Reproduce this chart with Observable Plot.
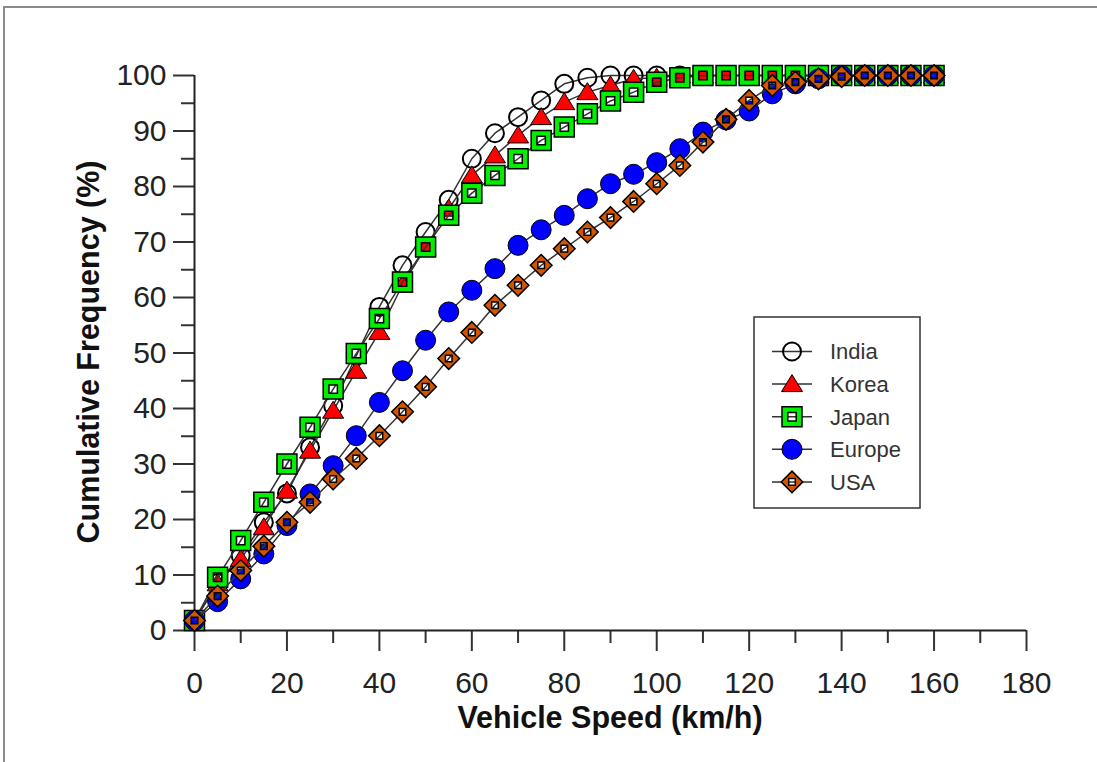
<!DOCTYPE html>
<html><head><meta charset="utf-8">
<script src="https://cdn.jsdelivr.net/npm/d3@7"></script>
<script src="https://cdn.jsdelivr.net/npm/@observablehq/plot@0.6"></script>
<style>
html,body{margin:0;padding:0;background:#fff;}
#wrap{position:relative;width:1097px;height:762px;overflow:hidden;background:#fff;}
#border{position:absolute;left:3px;top:6px;width:1200px;height:900px;border-top:2px solid #8a8a8a;border-left:2px solid #8a8a8a;}
#chart{position:absolute;left:0;top:0;}
</style></head><body>
<div id="wrap"><div id="border"></div><div id="chart"></div></div>
<script>
// ---- data ----
const speeds = [0,5,10,15,20,25,30,35,40,45,50,55,60,65,70,75,80,85,90,95,100,105,110,115,120,125,130,135,140,145,150,155,160];
const india  = [1.8,8.5,13.5,19.5,24.7,33,40.5,49.5,58.3,65.8,71.8,77.6,85,89.6,92.5,95.5,98.5,99.6,100,100,100,100,100,100,100,100,100,100,100,100,100,100,100];
const korea  = [1.8,8.5,12.9,18.6,25.2,32.4,39.6,46.8,53.8,62.3,69,76,82,85.6,89.2,92.5,95.2,97,98.2,99.4,99.6,100,100,100,100,100,100,100,100,100,100,100,100];
const japan  = [1.8,9.6,16.2,23.1,30,36.6,43.5,49.9,56.2,62.8,69.1,74.8,78.8,82,85,88.3,90.7,93.1,95.4,97,98.8,99.6,100,100,100,100,100,100,100,100,100,100,100];
const europe = [1.8,5.2,9.3,13.8,18.9,24.6,29.7,35.1,41.1,46.8,52.3,57.4,61.3,65.2,69.4,72.2,74.8,77.8,80.5,82.2,84.3,86.8,89.8,92,93.6,96.7,98.5,99.4,100,100,100,100,100];
const usa    = [1.8,6.2,10.8,15.2,19.5,23.1,27.3,31,35.1,39.4,43.9,49,53.7,58.6,62.2,65.8,68.8,71.8,74.4,77.3,80.5,83.8,88,92.1,95.5,98.2,98.8,99.4,99.8,100,100,100,100];
const seriesNames = ["India","Korea","Japan","Europe","USA"];
const xTicks = [0,20,40,60,80,100,120,140,160,180];
const xMinorTicks = [10,30,50,70,90,110,130,150,170];
const yTicks = [0,10,20,30,40,50,60,70,80,90,100];
const yMinorTicks = [5,15,25,35,45,55,65,75,85,95];
const xTitle = "Vehicle Speed (km/h)";
const yTitle = "Cumulative Frequency (%)";

// ---- symbols ----
const rad = size => Math.sqrt(size / Math.PI);
const symCircle = {draw(c, size){const r = rad(size); c.moveTo(r,0); c.arc(0,0,r,0,2*Math.PI); c.closePath();}};
const symTriangle = {draw(c, size){const r = rad(size); c.moveTo(0,-r*0.95); c.lineTo(r*1.05,r*0.75); c.lineTo(-r*1.05,r*0.75); c.closePath();}};
const symSquareHole = {draw(c, size){const r = rad(size); const s = r, t = r*0.42;
  c.moveTo(-s,-s); c.lineTo(s,-s); c.lineTo(s,s); c.lineTo(-s,s); c.closePath();
  c.moveTo(-t,-t); c.lineTo(-t,t); c.lineTo(t,t); c.lineTo(t,-t); c.closePath();}};
const symDiamondHole = {draw(c, size){const r = rad(size); const d = r*1.08, t = r*0.33;
  c.moveTo(0,-d); c.lineTo(d,0); c.lineTo(0,d); c.lineTo(-d,0); c.closePath();
  c.moveTo(-t,-t); c.lineTo(-t,t); c.lineTo(t,t); c.lineTo(t,-t); c.closePath();}};

const styles = {
  India:  {symbol: symCircle, r: 9, fill: "none", stroke: "#000", strokeWidth: 2},
  Korea:  {symbol: symTriangle, r: 10, fill: "#ff0000", stroke: "#000", strokeWidth: 1},
  Japan:  {symbol: symSquareHole, r: 10, fill: "#00ee00", stroke: "#000", strokeWidth: 1.5},
  Europe: {symbol: symCircle, r: 10, fill: "#0000ff", stroke: "#000", strokeWidth: 1},
  USA:    {symbol: symDiamondHole, r: 10, fill: "#d45500", stroke: "#000", strokeWidth: 1.5}
};
const values = {India: india, Korea: korea, Japan: japan, Europe: europe, USA: usa};
const table = seriesNames.map(name => speeds.map((s, i) => ({series: name, speed: s, freq: values[name][i]})));

const marks = [];
seriesNames.forEach((name, k) => {
  marks.push(Plot.line(table[k], {x: "speed", y: "freq", stroke: "#333", strokeWidth: 1.5}));
  marks.push(Plot.dot(table[k], {x: "speed", y: "freq", ...styles[name]}));
});

const font = "'Liberation Sans', Arial, Helvetica, sans-serif";
const svgNode = Plot.plot({
  width: 1097, height: 762,
  marginLeft: 194, marginRight: 71, marginTop: 75, marginBottom: 132,
  style: {fontFamily: font, background: "transparent", overflow: "visible"},
  x: {domain: [0, 180]},
  y: {domain: [0, 100]},
  marks: [
    Plot.axisY(yTicks, {tickSize: 21, tickPadding: 7, fontSize: 30, stroke: "#333", strokeWidth: 2, fill: "#222", label: null}),
    Plot.axisY(yMinorTicks, {tickSize: 13, text: null, stroke: "#333", strokeWidth: 2, label: null}),
    Plot.axisX(xTicks, {tickSize: 21, tickPadding: 20, fontSize: 30, stroke: "#333", strokeWidth: 2, fill: "#222", label: null}),
    Plot.axisX(xMinorTicks, {tickSize: 13, text: null, stroke: "#333", strokeWidth: 2, label: null}),
    Plot.ruleX([0], {stroke: "#222", strokeWidth: 2}),
    Plot.ruleY([0], {stroke: "#222", strokeWidth: 2}),
    ...marks
  ]
});
document.getElementById("chart").appendChild(svgNode);

const svg = d3.select(svgNode);
svg.append("text").attr("x", 610).attr("y", 728).attr("text-anchor", "middle")
  .attr("font-size", 30.5).attr("font-weight", "bold").attr("fill", "#111").attr("font-family", font).text(xTitle);
svg.append("text").attr("transform", "translate(99,352) rotate(-90)").attr("text-anchor", "middle")
  .attr("font-size", 30.5).attr("font-weight", "bold").attr("fill", "#111").attr("font-family", font).text(yTitle);

// ---- legend ----
const lg = svg.append("g");
lg.append("rect").attr("x", 754).attr("y", 317).attr("width", 166).attr("height", 191)
  .attr("fill", "#fff").attr("stroke", "#333").attr("stroke-width", 1.5);
seriesNames.forEach((name, i) => {
  const cy = 351.5 + i * 32.6;
  const st = styles[name];
  lg.append("line").attr("x1", 772).attr("x2", 812).attr("y1", cy).attr("y2", cy).attr("stroke", "#333").attr("stroke-width", 1.5);
  lg.append("path").attr("transform", `translate(792,${cy})`)
    .attr("d", d3.symbol(st.symbol, Math.PI * st.r * st.r)())
    .attr("fill", st.fill).attr("stroke", st.stroke).attr("stroke-width", st.strokeWidth);
  lg.append("text").attr("x", 830).attr("y", cy).attr("dy", "0.36em").attr("font-size", 22)
    .attr("text-anchor", "start").attr("fill", "#333").attr("font-family", font).text(name);
});
</script>
</body></html>
